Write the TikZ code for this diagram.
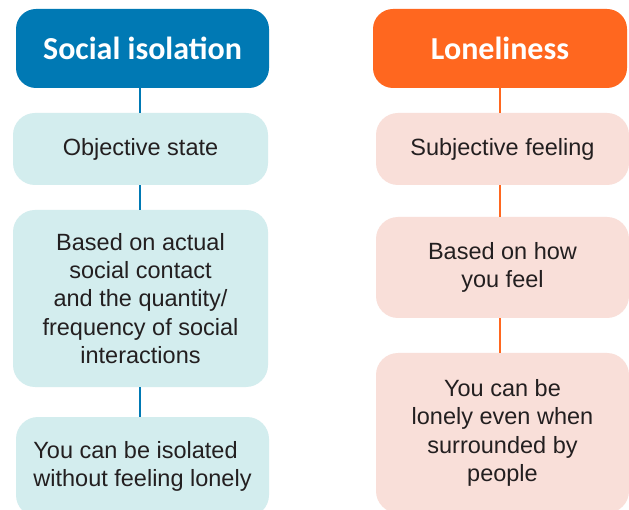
\documentclass[tikz,border=0pt]{standalone}
\usepackage{fontspec}
\setmainfont{Liberation Sans}
\newfontfamily\headfont{Carlito}
\definecolor{isoblue}{RGB}{0,121,180}
\definecolor{isolight}{RGB}{211,237,238}
\definecolor{loneorange}{RGB}{255,103,31}
\definecolor{lonelight}{RGB}{249,223,217}
\definecolor{bodytext}{RGB}{35,31,32}
\begin{document}
\begin{tikzpicture}[x=1pt, y=-1pt,
  header/.style={rectangle, rounded corners=20pt, inner sep=0pt,
    text=white, font=\headfont\bfseries\fontsize{32}{36}\selectfont},
  card/.style={rectangle, rounded corners=22pt, inner sep=0pt, align=center,
    text=bodytext, font=\fontsize{23.5}{28.3}\selectfont},
  isohead/.style={header, fill=isoblue},
  lonehead/.style={header, fill=loneorange},
  isocard/.style={card, fill=isolight},
  lonecard/.style={card, fill=lonelight},
  isolink/.style={draw=isoblue, line width=2pt},
  lonelink/.style={draw=loneorange, line width=2pt}]
  \clip (0,0) rectangle (629,510);
  \fill[white] (0,0) rectangle (629,510);

  % Social isolation column
  \node[isohead, minimum width=253pt, minimum height=79pt] (sih) at (142.5,48.5) {Social isolation};
  \node[isocard, minimum width=255pt, minimum height=72pt] (si1) at (140.5,149) {Objective state};
  \node[isocard, minimum width=255pt, minimum height=177pt] (si2) at (140.5,298.5)
    {Based on actual\\social contact\\and the quantity/\\frequency of social\\interactions};
  \node[isocard, minimum width=253pt, minimum height=100pt] (si3) at (142.5,467)
    {\begin{tabular}{@{}l@{}}You can be isolated\\without feeling lonely\end{tabular}};

  % Loneliness column
  \node[lonehead, minimum width=254pt, minimum height=79pt] (loh) at (500,48.5) {Loneliness};
  \node[lonecard, minimum width=253pt, minimum height=72pt] (lo1) at (502.5,149) {Subjective feeling};
  \node[lonecard, minimum width=253pt, minimum height=101pt] (lo2) at (502.5,267.5)
    {Based on how\\you feel};
  \node[lonecard, minimum width=253pt, minimum height=160pt] (lo3) at (502.5,433)
    {You can be\\lonely even when\\surrounded by\\people};

  % connectors
  \draw[isolink] (sih.south -| 140,0) -- (si1.north -| 140,0);
  \draw[isolink] (si1.south -| 140,0) -- (si2.north -| 140,0);
  \draw[isolink] (si2.south -| 140,0) -- (si3.north -| 140,0);
  \draw[lonelink] (loh.south) -- (loh.south |- lo1.north);
  \draw[lonelink] (lo1.south -| loh.south) -- (lo2.north -| loh.south);
  \draw[lonelink] (lo2.south -| loh.south) -- (lo3.north -| loh.south);
\end{tikzpicture}
\end{document}
